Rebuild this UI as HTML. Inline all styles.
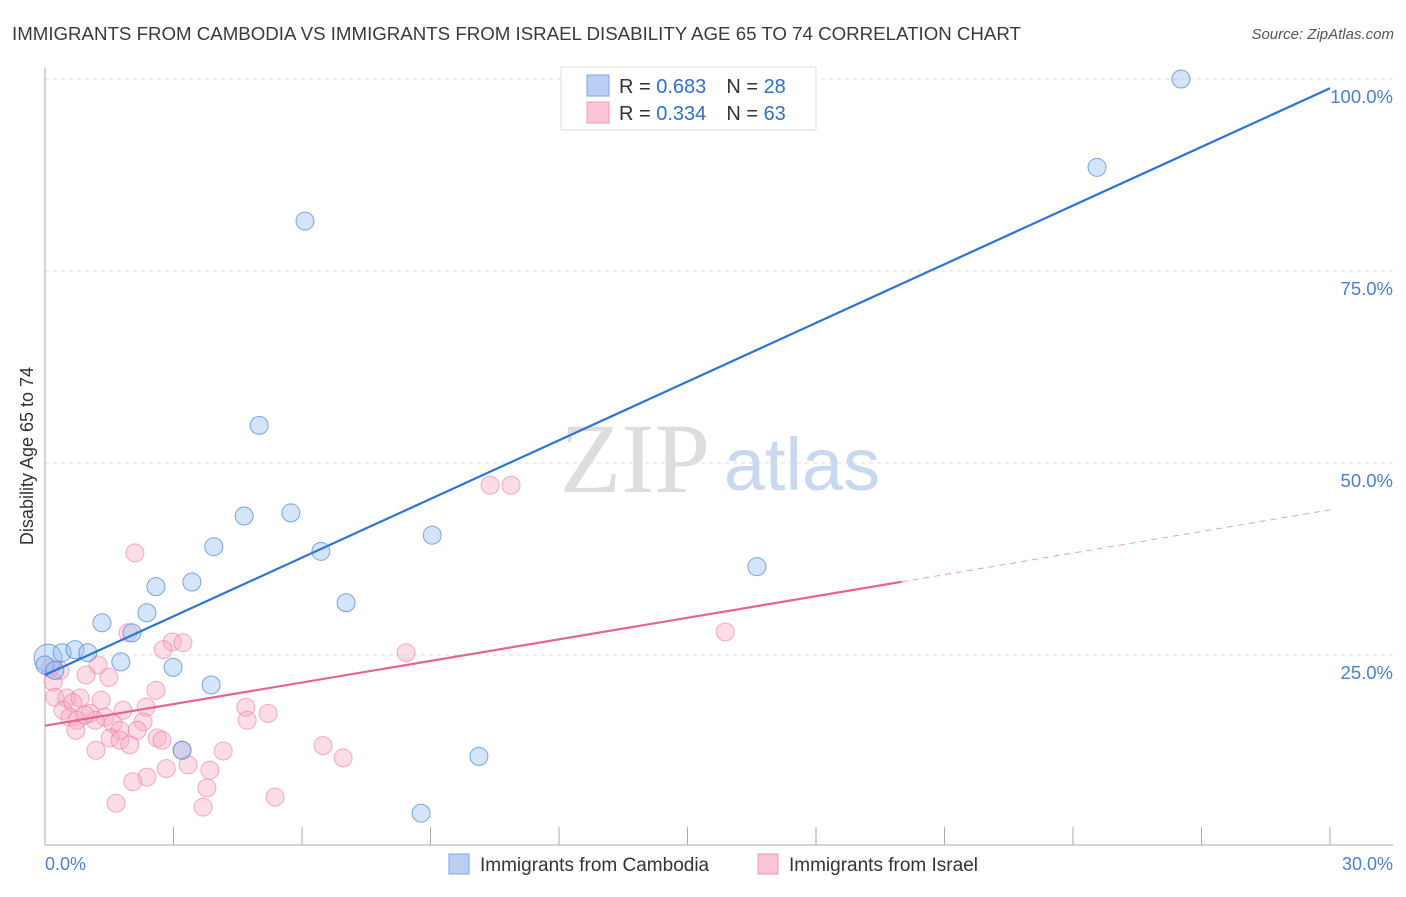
<!DOCTYPE html>
<html><head><meta charset="utf-8"><style>
body{margin:0;background:#fff;font-family:"Liberation Sans",sans-serif;}
</style></head><body>
<svg id="chart" width="1406" height="892" xmlns="http://www.w3.org/2000/svg" style="font-family:'Liberation Sans',sans-serif">
<text x="12" y="40" font-size="18.7" fill="#3a3a3a">IMMIGRANTS FROM CAMBODIA VS IMMIGRANTS FROM ISRAEL DISABILITY AGE 65 TO 74 CORRELATION CHART</text>
<text x="1394" y="39" font-size="15" font-style="italic" fill="#555" text-anchor="end">Source: ZipAtlas.com</text>
<g>
<text x="635" y="492" font-size="100" font-family="Liberation Serif" fill="#ddd" text-anchor="middle">ZIP</text>
<text x="802" y="490" font-size="74" fill="#c8d8ee" text-anchor="middle">atlas</text>
</g>
<g id="grid"></g>
<line x1="45" y1="68" x2="45" y2="845" stroke="#aaa" stroke-width="1"/>
<line x1="45" y1="845" x2="1393" y2="845" stroke="#aaa" stroke-width="1"/>
<g id="xticks"></g>
<text x="33" y="456" font-size="18" fill="#333" text-anchor="middle" transform="rotate(-90 33 456)">Disability Age 65 to 74</text>
<text x="45" y="870" font-size="18" fill="#4a7fd4">0.0%</text>
<text x="1393" y="870" font-size="18" fill="#4a7fd4" text-anchor="end">30.0%</text>
<g id="pts"></g>
<g id="lines"></g>
<g>
<rect x="561" y="67" width="255" height="63" fill="#fff" stroke="#ddd"/>
<rect x="587" y="75" width="22" height="21" fill="#b9d0f3" stroke="#7aa5e3"/>
<rect x="587" y="102" width="22" height="21" fill="#fbc5d6" stroke="#f09ab5"/>
<text x="619" y="93" font-size="20" fill="#333">R = <tspan fill="#2f6fd0">0.683</tspan><tspan dx="20">N = </tspan><tspan fill="#2f6fd0">28</tspan></text>
<text x="619" y="120" font-size="20" fill="#333">R = <tspan fill="#2f6fd0">0.334</tspan><tspan dx="20">N = </tspan><tspan fill="#2f6fd0">63</tspan></text>
</g>
<g>
<rect x="449" y="854" width="20" height="20" fill="#b9d0f3" stroke="#7aa5e3"/>
<text x="480" y="871" font-size="19" fill="#333">Immigrants from Cambodia</text>
<rect x="758" y="854" width="20" height="20" fill="#fbc5d6" stroke="#f09ab5"/>
<text x="789" y="871" font-size="19" fill="#333">Immigrants from Israel</text>
</g>
</svg>
<script>
const yTicks=[25,50,75,100];
const yTickLabels=["25.0%","50.0%","75.0%","100.0%"];
const cambodiaX=[0.07,0.40,0.70,1.00,0,1.33,1.77,2.03,2.38,2.59,2.99,3.43,3.88,3.94,4.65,5.00,5.74,6.07,6.44,7.03,9.04,10.13,8.78,16.62,24.56,26.52,3.20,0.23];
const cambodiaY=[24.6,25.3,25.7,25.3,23.7,29.2,24.1,27.9,30.5,33.9,23.4,34.5,21.1,39.1,43.1,54.9,43.5,81.5,38.5,31.8,40.6,11.8,4.4,36.5,88.5,100,12.6,23.0];
const israelX=[2.10,1.94,2.97,3.22,2.76,1.24,0.96,1.49,2.59,0.19,0.23,0.51,0.82,1.31,0.42,0.65,1.05,1.82,2.36,0.58,1.40,0.75,1.59,2.29,1.17,0.72,1.75,2.15,1.52,2.62,2.73,1.75,1.98,1.19,3.20,4.16,3.34,2.83,3.85,2.38,2.05,3.78,1.66,3.69,5.37,4.69,4.72,5.21,6.49,6.96,8.43,10.39,10.88,15.88,0.35,0.12,0.93];
const israelY=[38.3,27.9,26.7,26.6,25.7,23.7,22.4,22.1,20.4,21.5,19.5,19.4,19.4,19.1,17.8,18.8,17.4,17.8,18.2,16.9,16.9,16.5,16.1,16.3,16.5,15.2,15.2,15.2,14.2,14.2,13.9,13.9,13.3,12.6,12.6,12.5,10.7,10.2,10.0,9.1,8.5,7.7,5.7,5.2,6.5,18.2,16.5,17.4,13.2,11.6,25.3,47.1,47.1,28.0,23.0,23.3,17.2];
const cambodiaTrend=[22.4,98.8];
const israelTrend=[15.8,43.9];
const israelSolidEnd=20;
const NS="http://www.w3.org/2000/svg";
const sx=v=>45+v*(1285/30);
const sy=v=>847-v*7.68;
function mk(tag,attrs,parent){const e=document.createElementNS(NS,tag);for(const k in attrs)e.setAttribute(k,attrs[k]);parent.appendChild(e);return e;}
const grid=document.getElementById('grid');
yTicks.forEach((t,i)=>{
 const l=mk('line',{x1:45,x2:1393,y1:sy(t),y2:sy(t),stroke:'#ddd','stroke-dasharray':'4,4'},grid);
 
 
 const tx=mk('text',{x:1393,y:sy(t)+24,'font-size':18.5,fill:'#4a7fd4','text-anchor':'end'},grid);
 tx.textContent=yTickLabels[i];
 
 
});
const xt=document.getElementById('xticks');
for(let i=1;i<=10;i++){
 const l=mk('line',{x1:sx(i*3),x2:sx(i*3),y1:827,y2:845,stroke:'#aaa'},xt);
 
 
}
const pts=document.getElementById('pts');
israelX.forEach((x,i)=>{
 const c=mk('circle',{cx:sx(x),cy:sy(israelY[i]),r:9,fill:'rgba(248,170,195,0.4)',stroke:'rgba(235,120,160,0.6)','stroke-width':1},pts);
 
 
});
cambodiaX.forEach((x,i)=>{
 const c=mk('circle',{cx:sx(x),cy:sy(cambodiaY[i]),r:i===0?14:9,fill:'rgba(150,190,240,0.4)',stroke:'rgba(70,130,220,0.7)','stroke-width':1},pts);
 
 
});
const lines=document.getElementById('lines');
const b=mk('line',{x1:sx(0),y1:sy(cambodiaTrend[0]),x2:sx(30),y2:sy(cambodiaTrend[1]),stroke:'#2b74d8','stroke-width':2.2},lines);


const iy=x=>israelTrend[0]+(israelTrend[1]-israelTrend[0])*x/30;
const p1=mk('line',{x1:sx(0),y1:sy(iy(0)),x2:sx(israelSolidEnd),y2:sy(iy(israelSolidEnd)),stroke:'#e8638f','stroke-width':2.2},lines);


const p2=mk('line',{x1:sx(israelSolidEnd),y1:sy(iy(israelSolidEnd)),x2:sx(30),y2:sy(iy(30)),stroke:'#e8a0b8','stroke-width':1,'stroke-dasharray':'6,5'},lines);


</script>
</body></html>
